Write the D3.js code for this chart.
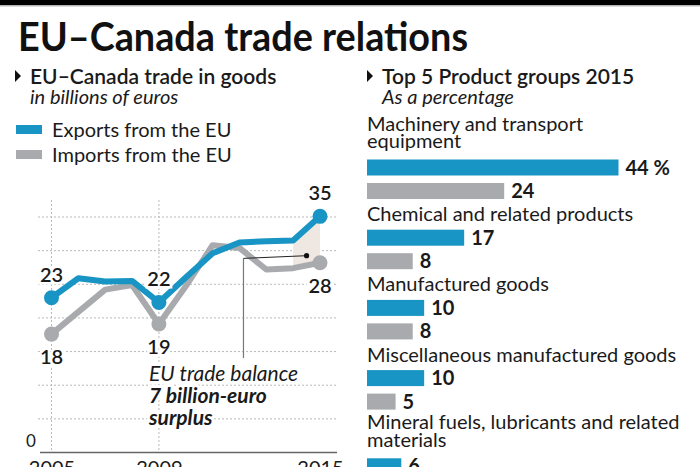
<!DOCTYPE html>
<html>
<head>
<meta charset="utf-8">
<script src="https://cdn.jsdelivr.net/npm/d3@7"></script>
<style>
  body { margin: 0; background: #fff; }
  svg { display: block; font-family: Lato, "Noto Sans", sans-serif; }
</style>
</head>
<body>
<div class="container"></div>
<script>
// trade in goods, billions of euros
var years = [2005, 2006, 2007, 2008, 2009, 2010, 2011, 2012, 2013, 2014, 2015];
var exportsEU = [23.0, 25.9, 25.4, 25.5, 22.3, 26.0, 29.6, 31.2, 31.4, 31.5, 35.1];
var importsEU = [17.6, 20.9, 24.2, 24.9, 19.1, 24.7, 30.8, 30.4, 27.2, 27.4, 28.2];
var yearTicks = [2005, 2009, 2015];
var gridValues = [5, 10, 15, 20, 25, 30, 35];

// top 5 product groups 2015, percent
var groupLabels = [
  ['Machinery and transport', 'equipment'],
  ['Chemical and related products'],
  ['Manufactured goods'],
  ['Miscellaneous manufactured goods'],
  ['Mineral fuels, lubricants and related', 'materials']
];
var exportShare = [44, 17, 10, 10, 6];
var importShare = [24, 8, 8, 5, 12];

var blue = '#1895c4';
var grey = '#a8aaad';
var ink = '#1a1a1a';

var w = 700, h = 467;

var svg = d3.select('.container')
  .append('svg')
  .attr('width', w)
  .attr('height', h);

/* header */
svg.append('rect').attr('x', 0).attr('y', 0).attr('width', w).attr('height', 5).attr('fill', '#000');
svg.append('rect').attr('x', 0).attr('y', 5).attr('width', w).attr('height', 1.5).attr('fill', '#b5b5b5');

var title = svg.append('text')
  .attr('x', 18).attr('y', 51)
  .attr('font-size', '40px')
  .attr('font-weight', 'bold')
  .attr('fill', '#111')
  .text('EU–Canada trade relations');
if (title.node().getComputedTextLength() > 450) {
  title.attr('textLength', 450).attr('lengthAdjust', 'spacingAndGlyphs');
}

function subhead(x, txt, sub) {
  svg.append('path')
    .attr('d', 'M' + (x - 15) + ',70 L' + (x - 9) + ',76 L' + (x - 15) + ',82 Z')
    .attr('fill', '#111');
  svg.append('text')
    .attr('x', x).attr('y', 84)
    .attr('font-size', '21px')
    .attr('font-weight', 600)
    .attr('fill', ink)
    .text(txt);
  svg.append('text')
    .attr('x', x).attr('y', 104)
    .attr('font-size', '20px')
    .attr('font-style', 'italic')
    .attr('fill', ink)
    .text(sub);
}
subhead(30, 'EU–Canada trade in goods', 'in billions of euros');
subhead(382, 'Top 5 Product groups 2015', 'As a percentage');

/* legend */
var legend = [['Exports from the EU', blue], ['Imports from the EU', grey]];
legend.forEach(function(d, i) {
  svg.append('rect')
    .attr('x', 16).attr('y', 125 + i * 25)
    .attr('width', 26).attr('height', 9)
    .attr('fill', d[1]);
  svg.append('text')
    .attr('x', 52).attr('y', 137 + i * 25)
    .attr('font-size', '20px')
    .attr('fill', ink)
    .text(d[0]);
});

/* line chart */
var xScale = d3.scaleLinear().domain([2005, 2015]).range([51.5, 320]);
var yScale = d3.scaleLinear().domain([0, 35]).range([452.5, 217]);

svg.append('g').selectAll('line')
  .data(gridValues)
  .enter().append('line')
  .attr('x1', 38).attr('x2', 338)
  .attr('y1', function(d) { return yScale(d); })
  .attr('y2', function(d) { return yScale(d); })
  .attr('stroke', '#b8b8b8')
  .attr('stroke-width', 1)
  .attr('stroke-dasharray', '2,2');

svg.append('g').selectAll('line')
  .data(yearTicks.slice(0, 2))
  .enter().append('line')
  .attr('x1', function(d) { return xScale(d); })
  .attr('x2', function(d) { return xScale(d); })
  .attr('y1', 200).attr('y2', yScale(0))
  .attr('stroke', '#b8b8b8')
  .attr('stroke-width', 1)
  .attr('stroke-dasharray', '2,2');

// balance shading 2014-2015
var rows = years.map(function(y, i) { return { year: y, ex: exportsEU[i], im: importsEU[i] }; });
var area = d3.area()
  .x(function(d) { return xScale(d.year); })
  .y0(function(d) { return yScale(d.im); })
  .y1(function(d) { return yScale(d.ex); });
svg.append('path')
  .datum(rows.slice(-2))
  .attr('d', area)
  .attr('fill', '#efe7e1');

var line = d3.line()
  .x(function(d) { return xScale(d[0]); })
  .y(function(d) { return yScale(d[1]); });

var series = [
  { vals: importsEU, color: grey },
  { vals: exportsEU, color: blue }
];
series.forEach(function(s) {
  var pts = years.map(function(y, i) { return [y, s.vals[i]]; });
  svg.append('path')
    .datum(pts)
    .attr('d', line)
    .attr('fill', 'none')
    .attr('stroke', s.color)
    .attr('stroke-width', 6)
    .attr('stroke-linejoin', 'round');
  svg.append('g').selectAll('circle')
    .data(pts.filter(function(p) { return yearTicks.indexOf(p[0]) >= 0; }))
    .enter().append('circle')
    .attr('cx', function(p) { return xScale(p[0]); })
    .attr('cy', function(p) { return yScale(p[1]); })
    .attr('r', 7.5)
    .attr('fill', s.color);
});

// axis
var xAxis = d3.axisBottom(xScale)
  .tickValues(yearTicks)
  .tickFormat(d3.format('d'))
  .tickSize(0);
var ax = svg.append('g')
  .attr('transform', 'translate(0,' + yScale(0) + ')')
  .call(xAxis);
ax.select('.domain')
  .attr('d', 'M40,0H337')
  .attr('stroke', '#666')
  .attr('stroke-width', 1.5);
ax.selectAll('text')
  .attr('font-family', 'Lato, sans-serif')
  .attr('font-size', '20px')
  .attr('fill', ink)
  .attr('y', 22.5)
  .attr('dy', 0);

svg.append('text')
  .attr('x', 31).attr('y', 447)
  .attr('text-anchor', 'middle')
  .attr('font-size', '17px')
  .attr('fill', ink)
  .text('0');

// value labels at the ticked years
var labelData = [];
yearTicks.forEach(function(y) {
  var i = years.indexOf(y);
  labelData.push({ x: y, v: exportsEU[i], dy: -16 });
  labelData.push({ x: y, v: importsEU[i], dy: 30 });
});
svg.append('g').selectAll('text')
  .data(labelData)
  .enter().append('text')
  .attr('x', function(d) { return xScale(d.x); })
  .attr('y', function(d) { return yScale(d.v) + d.dy; })
  .attr('text-anchor', 'middle')
  .attr('font-size', '20px')
  .attr('font-weight', 600)
  .attr('fill', ink)
  .attr('stroke', '#fff')
  .attr('stroke-width', 5)
  .attr('paint-order', 'stroke')
  .text(function(d) { return Math.round(d.v); });

// trade balance annotation
var ax0 = xScale(2012.15), ay0 = yScale(28.85);
svg.append('line')
  .attr('x1', ax0).attr('y1', ay0).attr('x2', ax0).attr('y2', 358)
  .attr('stroke', '#777').attr('stroke-width', 1.2);
svg.append('line')
  .attr('x1', ax0).attr('y1', ay0)
  .attr('x2', xScale(2014.5)).attr('y2', yScale(29.25))
  .attr('stroke', '#222').attr('stroke-width', 1);
svg.append('circle')
  .attr('cx', xScale(2014.5)).attr('cy', yScale(29.25))
  .attr('r', 2.6).attr('fill', '#111');

var note = [
  ['EU trade balance', 'normal'],
  ['7 billion-euro', 'bold'],
  ['surplus', 'bold']
];
note.forEach(function(d, i) {
  svg.append('text')
    .attr('x', 149).attr('y', 381 + i * 22)
    .attr('font-size', '21px')
    .attr('font-style', 'italic')
    .attr('font-weight', d[1])
    .attr('fill', ink)
    .attr('stroke', '#fff')
    .attr('stroke-width', 6)
    .attr('paint-order', 'stroke')
    .text(d[0]);
});

/* product groups bars */
var barScale = d3.scaleLinear().domain([0, 44]).range([367, 618.5]);
var barH = 16, barGap = 23.5;

var blueTop = [];
var yTop = 159.5;
groupLabels.forEach(function(lines, i) {
  if (i > 0) yTop += 70.2 + (lines.length - 1) * 18;
  blueTop.push(yTop);
});

groupLabels.forEach(function(lines, i) {
  var last = blueTop[i] - (lines.length > 1 ? 11.5 : 8.5);
  lines.forEach(function(t, k) {
    svg.append('text')
      .attr('x', 367)
      .attr('y', last - (lines.length - 1 - k) * 17.5)
      .attr('font-size', '20px')
      .attr('fill', ink)
      .text(t);
  });
});

var bars = [];
exportShare.forEach(function(v, i) { bars.push({ v: v, y: blueTop[i], c: blue, pct: i === 0 }); });
importShare.forEach(function(v, i) { bars.push({ v: v, y: blueTop[i] + barGap, c: grey, pct: false }); });

var g = svg.selectAll('.bar')
  .data(bars)
  .enter()
  .append('g')
  .attr('class', 'bar');

g.append('rect')
  .attr('x', barScale(0))
  .attr('y', function(d) { return d.y; })
  .attr('width', function(d) { return barScale(d.v) - barScale(0); })
  .attr('height', barH)
  .attr('fill', function(d) { return d.c; });

g.append('text')
  .attr('x', function(d) { return barScale(d.v) + 7; })
  .attr('y', function(d) { return d.y + barH - 1; })
  .attr('font-size', '20px')
  .attr('font-weight', 'bold')
  .attr('fill', ink)
  .text(function(d) { return d.v + (d.pct ? ' %' : ''); });
</script>
</body>
</html>
